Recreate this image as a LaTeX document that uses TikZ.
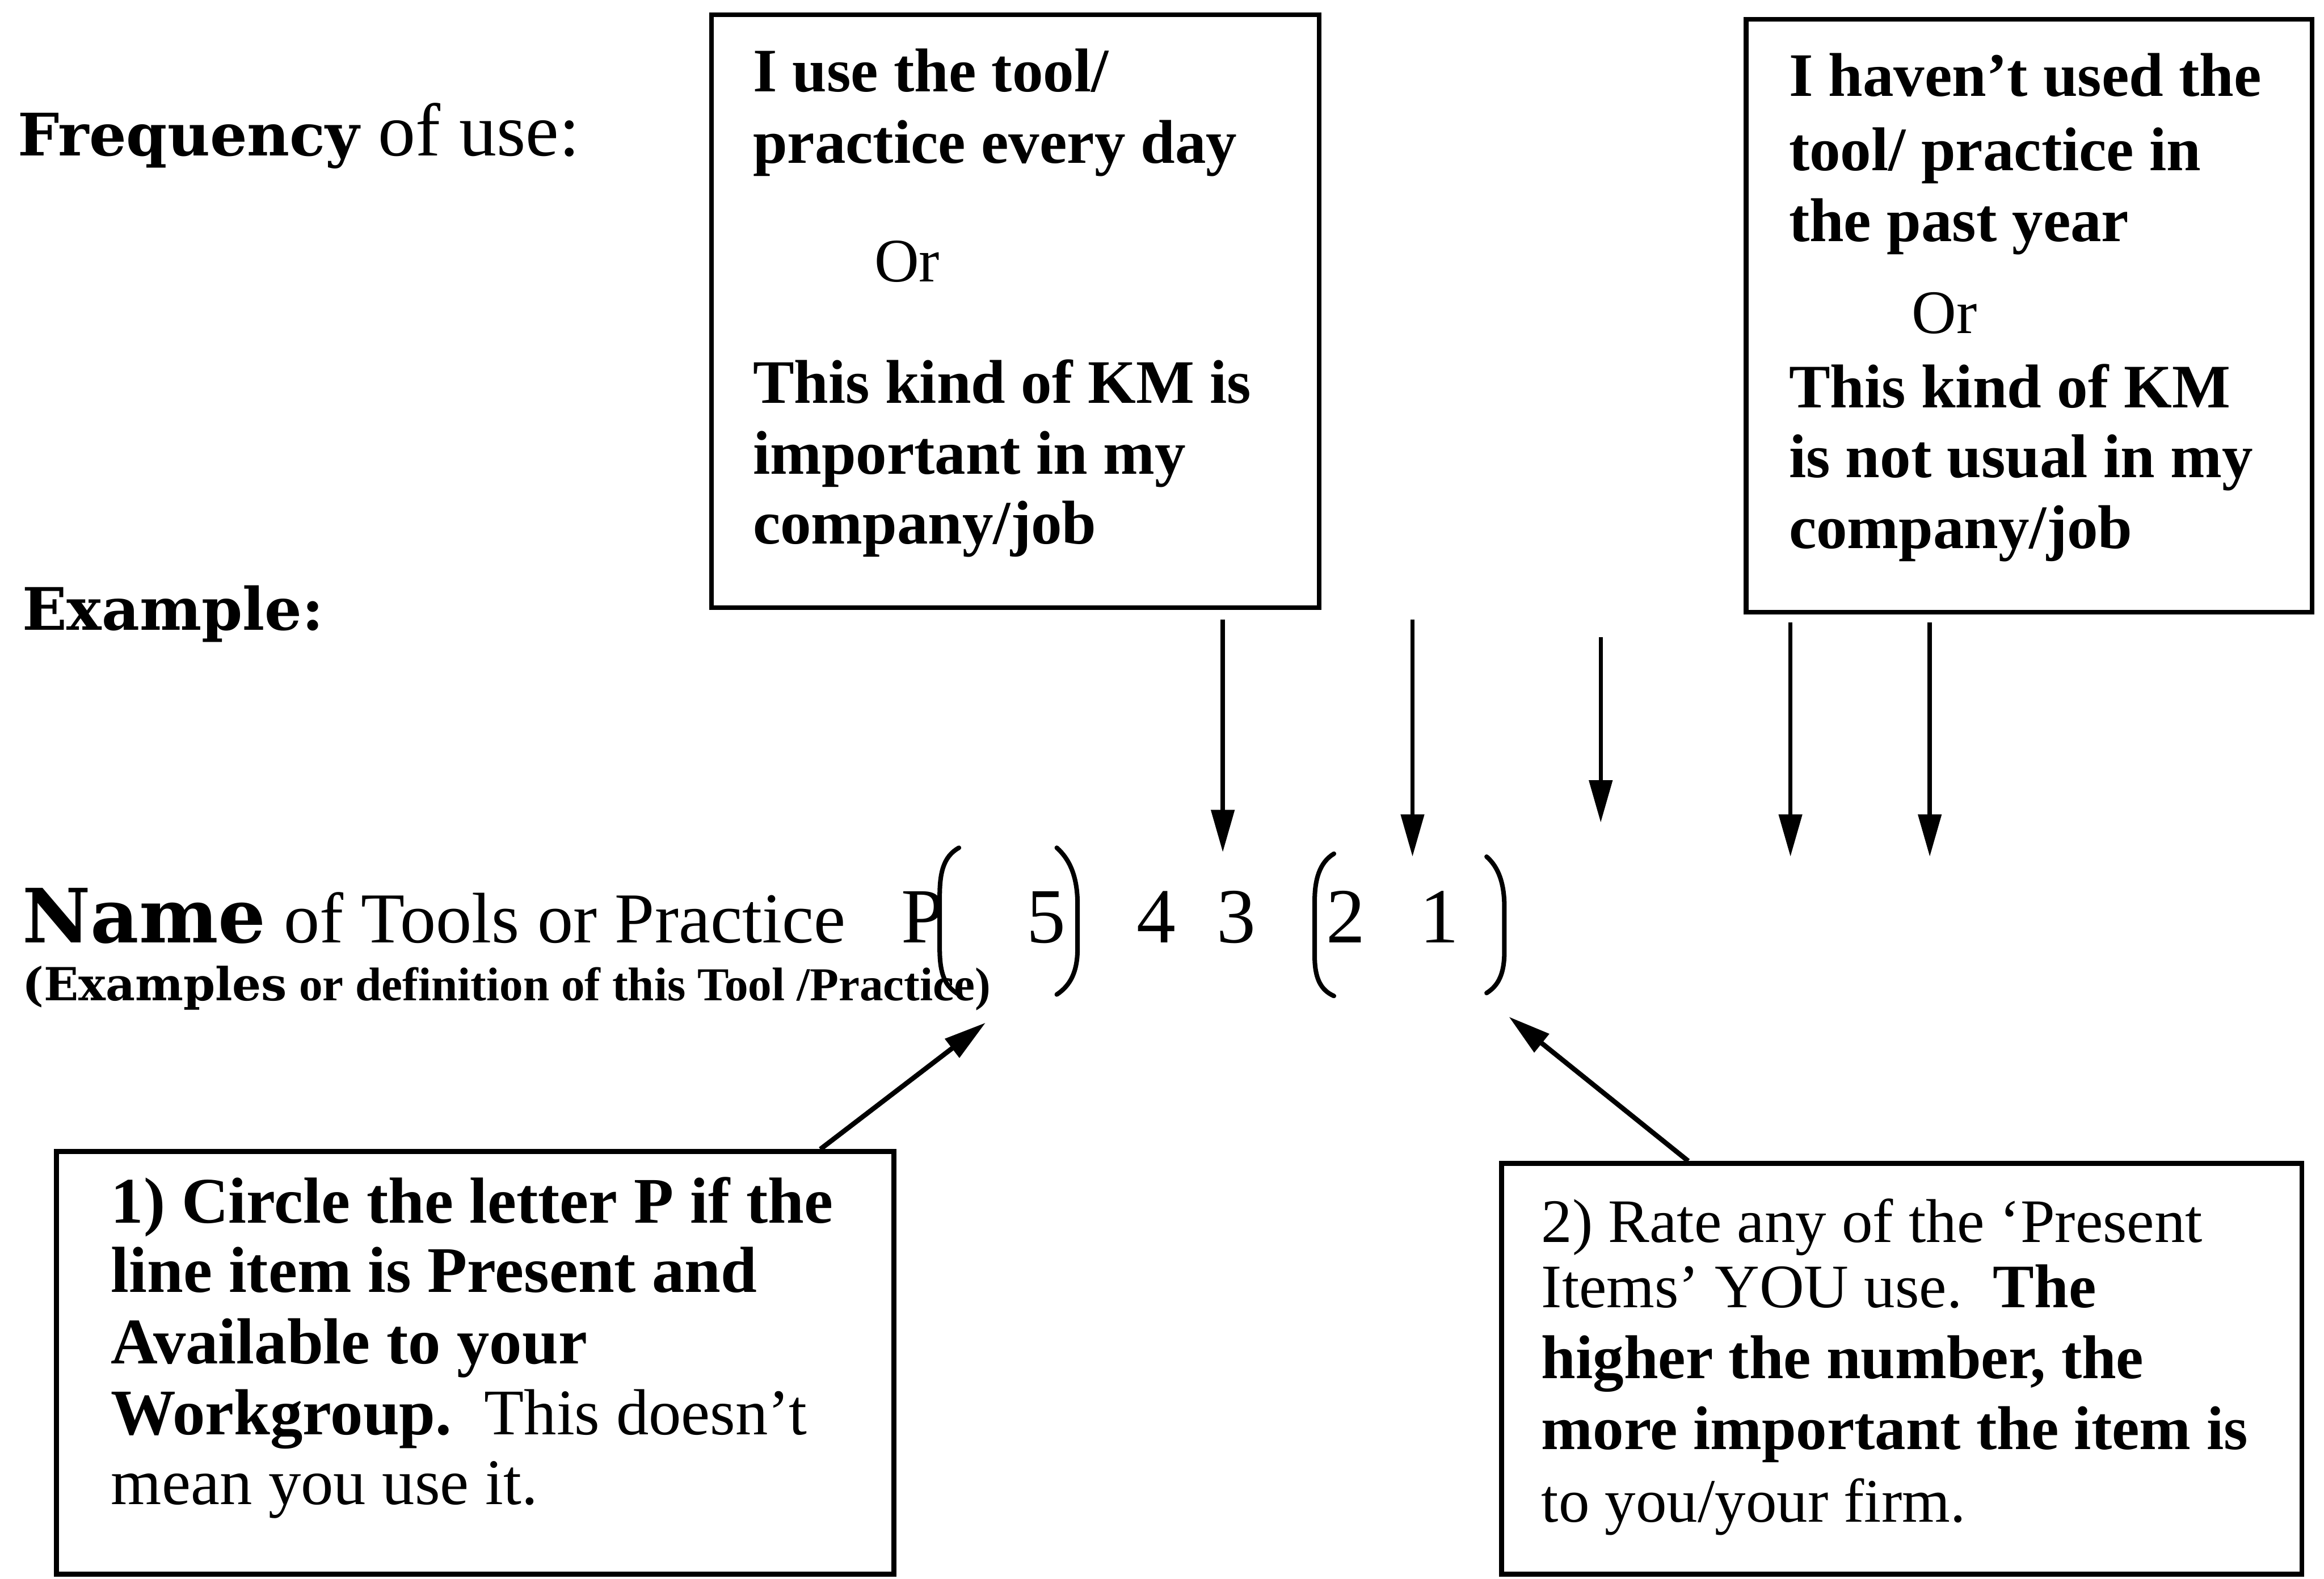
\documentclass[tikz,border=0pt]{standalone}
\usepackage{fontspec}
\setmainfont{Liberation Serif}
\newfontfamily\widefont{DejaVu Serif}
\usetikzlibrary{arrows.meta,calc}
\newcommand\pxu{0.016cm}
\newcommand\fs[1]{\fontsize{#1}{#1}\selectfont}

\begin{document}
\begin{tikzpicture}[x=0.016cm,y=-0.016cm,
  frame/.style={draw, line width=1.5pt, inner sep=0pt},
  ln/.style={anchor=base west, inner sep=0pt, outer sep=0pt},
  boxa/.style={ln, font=\fs{19}\bfseries},
  boxb/.style={ln, font=\fs{20}},
  boxc/.style={ln, font=\fs{19}},
  digit/.style={anchor=base, inner sep=0pt, font=\fs{24}},
  arr/.style={line width=1.3pt, -{Triangle[length=13pt,width=7pt]}},
  brk/.style={line width=1.4pt, line cap=round}]
\useasboundingbox (0,0) rectangle (1568,1065);

% left-hand labels
\node[ln, font=\fs{23}] (freq) at (12,105) {{\widefont\bfseries\fs{18}Frequency} of use:};
\node[ln, font=\widefont\bfseries\fs{18}] (exmp) at (15,425) {Example:};
\node[ln, font=\fs{22}] (name) at (15,636) {{\widefont\bfseries\fs{23}Name} of Tools or Practice};
\node[ln, font=\fs{14.5}\bfseries] (defn) at (15,675) {{\widefont\fs{14}(Examples} or definition of this Tool /Practice)};

% rating scale
\node[ln, font=\fs{24}] (pp) at (608,636) {P};
\node[digit] (n5) at (706,636) {5};
\node[digit] (n4) at (780,636) {4};
\node[digit] (n3) at (834,636) {3};
\node[digit] (n2) at (908,636) {2};
\node[digit] (n1) at (971,636) {1};

% brackets grouping the scale values
\draw[brk] (647,572) .. controls (636,578) and (634,590) .. (634,605) -- (634,640)
  .. controls (634,658) and (638,666) .. (647,671);
\draw[brk] (713,572) .. controls (722,580) and (727,592) .. (727,610) -- (727,640)
  .. controls (727,656) and (722,665) .. (713,671);
\draw[brk] (900,576) .. controls (890,582) and (887,594) .. (887,608) -- (887,645)
  .. controls (887,660) and (891,668) .. (900,672);
\draw[brk] (1003,578) .. controls (1011,585) and (1015,596) .. (1015,612) -- (1015,642)
  .. controls (1015,657) and (1011,665) .. (1003,670);

% top boxes
\node[frame, minimum width=410*\pxu, minimum height=400*\pxu] (b1) at (685,210) {};
\node[boxa] (b1l1) at (508,62)  {I use the tool/};
\node[boxa] (b1l2) at (508,110) {practice every day};
\node[boxc] (b1l3) at (590,190) {Or};
\node[boxa] (b1l4) at (508,272) {This kind of KM is};
\node[boxa] (b1l5) at (508,320) {important in my};
\node[boxa] (b1l6) at (508,367) {company/job};

\node[frame, minimum width=382*\pxu, minimum height=400*\pxu] (b2) at (1369,213) {};
\node[boxa] (b2l1) at (1207,65)  {I haven’t used the};
\node[boxa] (b2l2) at (1207,115) {tool/ practice in};
\node[boxa] (b2l3) at (1207,163) {the past year};
\node[boxc] (b2l4) at (1290,225) {Or};
\node[boxa] (b2l5) at (1207,275) {This kind of KM};
\node[boxa] (b2l6) at (1207,322) {is not usual in my};
\node[boxa] (b2l7) at (1207,370) {company/job};

% bottom boxes
\node[frame, minimum width=565*\pxu, minimum height=285*\pxu] (b3) at (320.5,919.5) {};
\node[boxb, font=\fs{20}\bfseries] (b3l1) at (75,825)  {1) Circle the letter P if the};
\node[boxb, font=\fs{20}\bfseries] (b3l2) at (75,872)  {line item is Present and};
\node[boxb, font=\fs{20}\bfseries] (b3l3) at (75,920)  {Available to your};
\node[boxb] (b3l4) at (75,968)  {\textbf{Workgroup.}\ \ This doesn’t};
\node[boxb] (b3l5) at (75,1015) {mean you use it.};

\node[frame, minimum width=540*\pxu, minimum height=277*\pxu] (b4) at (1283,923.5) {};
\node[boxc] (b4l1) at (1040,838)  {2) Rate any of the ‘Present};
\node[boxc] (b4l2) at (1040,882)  {Items’ YOU use.\ \ \textbf{The}};
\node[boxc, font=\fs{19}\bfseries] (b4l3) at (1040,930)  {higher the number, the};
\node[boxc, font=\fs{19}\bfseries] (b4l4) at (1040,978)  {more important the item is};
\node[boxc] (b4l5) at (1040,1027) {to you/your firm.};

% downward pointers onto the scale
\coordinate (d1s) at (825,418);  \coordinate (d1e) at (825,575);
\coordinate (d2s) at (953,418);  \coordinate (d2e) at (953,578);
\coordinate (d3s) at (1080,430); \coordinate (d3e) at (1080,555);
\coordinate (d4s) at (1208,420); \coordinate (d4e) at (1208,578);
\coordinate (d5s) at (1302,420); \coordinate (d5e) at (1302,578);
\foreach \k in {1,...,5} \draw[arr] (d\k s) -- (d\k e);

% pointers from the instruction boxes
\coordinate (tp1) at (665,690);
\coordinate (tp2) at (1018,686);
\draw[arr, line width=1.5pt] ($(b3.north west)!0.91!(b3.north east)$) -- (tp1);
\draw[arr, line width=1.5pt] ($(b4.north west)!0.235!(b4.north east)$) -- (tp2);
\end{tikzpicture}
\end{document}
